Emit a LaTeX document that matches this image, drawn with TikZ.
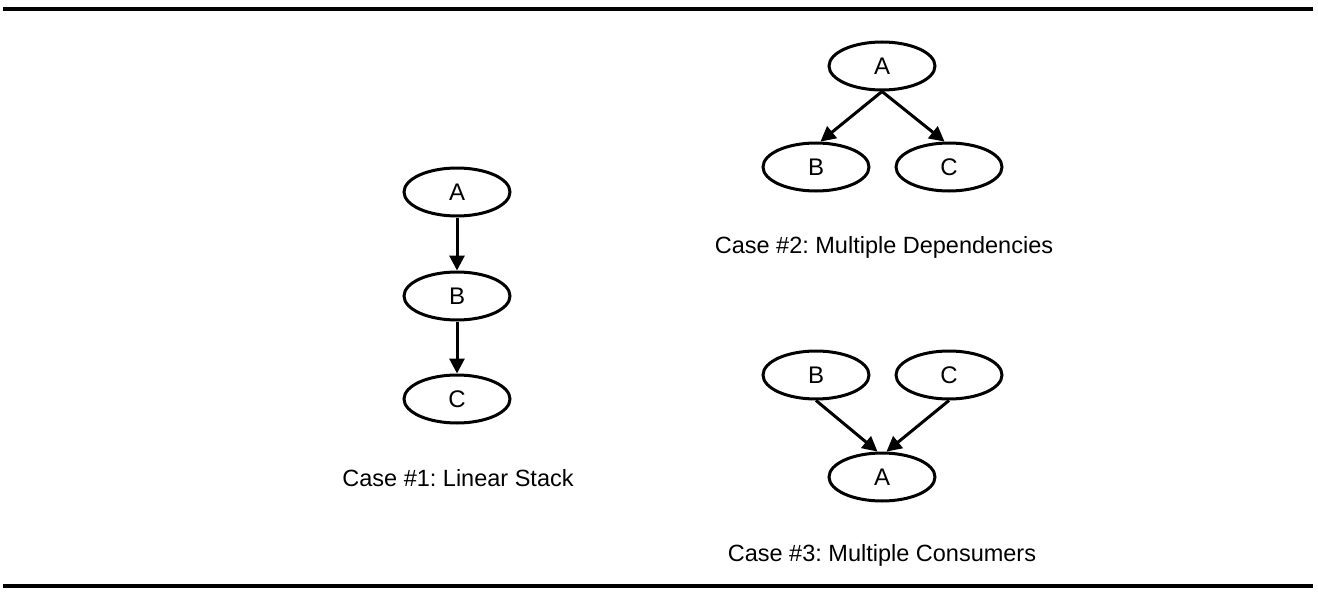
\documentclass[tikz,border=0pt]{standalone}
\usepackage{fontspec}
\setmainfont{Liberation Sans}
\usetikzlibrary{shapes.geometric,arrows.meta}
\frenchspacing
\tikzset{
  nd/.style={ellipse,draw,line width=3pt,minimum width=106pt,minimum height=48pt,inner sep=0pt,font=\fontsize{24pt}{28pt}\selectfont},
  edge/.style={line width=3pt,-{Triangle[length=15pt,width=15pt]}},
  caption/.style={anchor=base,inner sep=0pt,font=\fontsize{23.5pt}{28pt}\selectfont},
  rule/.style={line width=3.6pt}
}
\begin{document}
\begin{tikzpicture}[x=1pt,y=-1pt]
\useasboundingbox (0,0) rectangle (1318,594);
\coordinate (tl) at (3,9); \coordinate (tr) at (1313,9);
\coordinate (bl) at (3,586); \coordinate (br) at (1313,586);
\draw[rule] (tl) -- (tr);
\draw[rule] (bl) -- (br);
% Case 1
\node[nd] (a1) at (457,192) {A};
\node[nd] (b1) at (457,296) {B};
\node[nd] (c1) at (457,399) {C};
\draw[edge] (a1.south) -- (b1.north);
\draw[edge] (b1.south) -- (c1.north);
\node[caption] (cap1) at (458,486) {Case \#1: Linear Stack};
% Case 2
\node[nd] (a2) at (882,66) {A};
\node[nd] (b2) at (816,167) {B};
\node[nd] (c2) at (949,167) {C};
\draw[edge] (a2.south) -- (b2.80);
\draw[edge] (a2.south) -- (c2.100);
\node[caption] (cap2) at (884,253) {Case \#2: Multiple Dependencies};
% Case 3
\node[nd] (b3) at (816,375) {B};
\node[nd] (c3) at (949,375) {C};
\node[nd] (a3) at (882,477) {A};
\draw[edge] (b3.south) -- (a3.100);
\draw[edge] (c3.south) -- (a3.80);
\node[caption] (cap3) at (882,561) {Case \#3: Multiple Consumers};
\end{tikzpicture}
\end{document}
